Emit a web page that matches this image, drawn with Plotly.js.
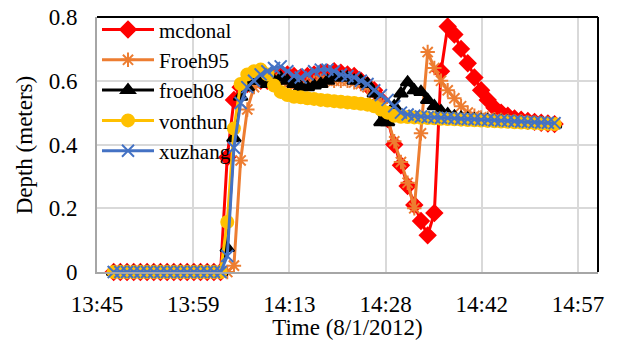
<!DOCTYPE html>
<html>
<head>
<meta charset="utf-8">
<script src="https://cdn.plot.ly/plotly-3.0.1.min.js"></script>
<style>html,body{margin:0;padding:0;background:#fff;}#chart{width:618px;height:340px;}</style>
</head>
<body>
<div id="chart"></div>
<script>
const timeLabels = ['13:47:30','13:48:30','13:49:30','13:50:30','13:51:30','13:52:30','13:53:30','13:54:30','13:55:30','13:56:30','13:57:30','13:58:30','13:59:30',
'14:00:30','14:01:30','14:02:30','14:03:30','14:04:30','14:05:30','14:06:30','14:07:30','14:08:30','14:09:30','14:10:30','14:11:30','14:12:30','14:13:30','14:14:30',
'14:15:30','14:16:30','14:17:30','14:18:30','14:19:30','14:20:30','14:21:30','14:22:30','14:23:30','14:24:30','14:25:30','14:26:30','14:27:30','14:28:30','14:29:30',
'14:30:30','14:31:30','14:32:30','14:33:30','14:34:30','14:35:30','14:36:30','14:37:30','14:38:30','14:39:30','14:40:30','14:41:30','14:42:30','14:43:30','14:44:30',
'14:45:30','14:46:30','14:47:30','14:48:30','14:49:30','14:50:30','14:51:30','14:52:30','14:53:30'];

const mcdonal = [0,0,0,0,0,0,0,0,0,0,0,0,0,0,0,0,0,
0.36,0.54,0.58,0.59,0.60,0.60,0.60,0.61,0.62,0.62,0.615,0.61,0.615,0.62,0.625,0.625,0.63,0.625,0.62,0.615,0.60,0.585,0.57,0.54,
0.48,0.40,0.335,0.27,0.21,0.16,0.115,0.185,0.63,0.77,0.745,0.70,0.655,0.61,0.57,0.54,0.515,0.50,0.49,0.482,0.478,0.474,0.471,0.468,0.466,0.464];

const froeh95 = [0,0,0,0,0,0,0,0,0,0,0,0,0,0,0,0,0,
0.0,0.02,0.35,0.51,0.58,0.60,0.61,0.61,0.60,0.59,0.585,0.585,0.59,0.595,0.60,0.60,0.60,0.60,0.60,0.595,0.59,0.58,0.56,0.53,
0.48,0.41,0.345,0.28,0.20,0.435,0.69,0.64,0.60,0.57,0.545,0.52,0.50,0.49,0.485,0.482,0.479,0.477,0.475,0.473,0.472,0.47,0.469,0.467,0.466,0.464];

const froeh08 = [0,0,0,0,0,0,0,0,0,0,0,0,0,0,0,0,0,
0.075,0.42,0.55,0.58,0.60,0.60,0.59,0.60,0.61,0.60,0.59,0.58,0.58,0.585,0.59,0.60,0.61,0.61,0.61,0.60,0.60,0.59,0.56,0.47,
0.47,0.52,0.56,0.595,0.57,0.565,0.54,0.52,0.505,0.495,0.488,0.484,0.481,0.479,0.477,0.476,0.474,0.473,0.472,0.47,0.469,0.468,0.467,0.466,0.465,0.463];

const vonthun = [0,0,0,0,0,0,0,0,0,0,0,0,0,0,0,0,0,
0.157,0.45,0.59,0.62,0.63,0.635,0.62,0.585,0.565,0.555,0.55,0.548,0.545,0.543,0.54,0.538,0.536,0.534,0.532,0.53,0.528,0.525,0.52,0.51,
0.50,0.49,0.487,0.486,0.485,0.484,0.483,0.482,0.481,0.48,0.479,0.478,0.477,0.476,0.475,0.474,0.473,0.472,0.471,0.47,0.469,0.468,0.467,0.466,0.465,0.464];

const xuzhang = [0,0,0,0,0,0,0,0,0,0,0,0,0,0,0,0,0,
0.05,0.39,0.53,0.58,0.60,0.62,0.63,0.64,0.645,0.63,0.615,0.61,0.62,0.63,0.635,0.635,0.63,0.62,0.615,0.61,0.60,0.59,0.57,0.555,
0.54,0.52,0.50,0.494,0.49,0.488,0.486,0.485,0.484,0.483,0.482,0.481,0.48,0.479,0.478,0.477,0.476,0.475,0.474,0.473,0.472,0.471,0.47,0.469,0.468,0.467];

const seriesNames = ['mcdonal','Froeh95','froeh08','vonthun','xuzhang'];
const seriesValues = [mcdonal, froeh95, froeh08, vonthun, xuzhang];
const seriesColors = ['#FF0000','#ED7D31','#000000','#FFC000','#4472C4'];
const seriesSymbols = ['diamond','asterisk-open','triangle-up','circle','x-thin-open'];
const seriesSizes = [12,12,12,12,12];

const xDates = timeLabels.map(t => '2012-08-01 ' + t);
const FONT = 'Liberation Serif';

const traces = seriesNames.map((n, k) => ({
  type: 'scatter', mode: 'lines+markers', name: n,
  x: xDates, y: seriesValues[k], cliponaxis: false,
  line: {color: seriesColors[k], width: 3},
  marker: {symbol: seriesSymbols[k], size: seriesSizes[k], color: seriesColors[k],
           line: {color: seriesColors[k], width: 2}}
}));

const layout = {
  width: 618, height: 340,
  margin: {l: 97, r: 20, t: 17, b: 68, autoexpand: false},
  paper_bgcolor: '#fff', plot_bgcolor: '#fff',
  font: {family: FONT, size: 23, color: '#000'},
  showlegend: true,
  legend: {x: 0, y: 1.03, xanchor: 'left', yanchor: 'top', bgcolor: 'rgba(255,255,255,0)',
           font: {family: FONT, size: 21, color: '#000'}, itemwidth: 52, tracegroupgap: 0},
  xaxis: {
    type: 'date',
    range: ['2012-08-01 13:45:00', '2012-08-01 15:00:00'],
    tick0: '2012-08-01 13:45:00', dtick: 864000, tickformat: '%H:%M',
    showgrid: true, gridcolor: '#D9D9D9', gridwidth: 2,
    showline: true, linecolor: '#A6A6A6', linewidth: 2,
    ticks: '', ticklabelstandoff: 10, zeroline: false,
    tickfont: {family: FONT, size: 23, color: '#000'},
    title: {text: 'Time (8/1/2012)', font: {family: FONT, size: 23, color: '#000'}, standoff: 2}
  },
  yaxis: {
    range: [0, 0.8], dtick: 0.2, tick0: 0,
    showgrid: true, gridcolor: '#D9D9D9', gridwidth: 2,
    showline: true, linecolor: '#A6A6A6', linewidth: 2,
    ticks: '', ticklabelstandoff: 13, zeroline: false,
    tickfont: {family: FONT, size: 23, color: '#000'}
  },
  annotations: [
    {text: 'Depth (meters)', xref: 'paper', yref: 'paper', x: -0.144, y: 0.5,
     xanchor: 'center', yanchor: 'middle', textangle: -90, showarrow: false,
     font: {family: FONT, size: 23, color: '#000'}}
  ],
  shapes: [
    {type: 'line', xref: 'paper', yref: 'paper', x0: 0, x1: 1, y0: 1, y1: 1, line: {color: '#000', width: 2}},
    {type: 'line', xref: 'paper', yref: 'paper', x0: 1, x1: 1, y0: 0, y1: 1, line: {color: '#000', width: 2}}
  ]
};

Plotly.newPlot('chart', traces, layout, {displayModeBar: false, staticPlot: true});
</script>
</body>
</html>
